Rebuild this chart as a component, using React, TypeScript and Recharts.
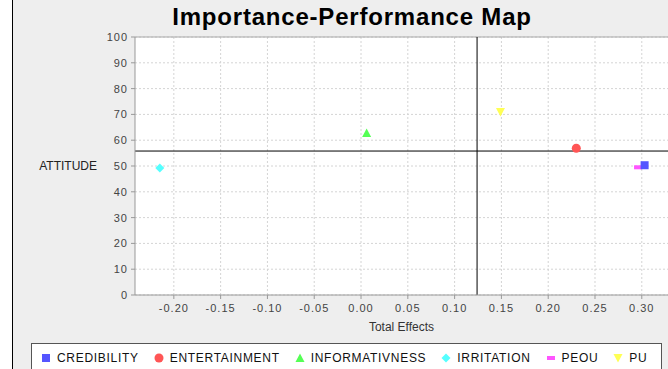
import React from 'react';
import {
  ScatterChart,
  Scatter,
  XAxis,
  YAxis,
  CartesianGrid,
  ReferenceLine,
} from 'recharts';

const categories = ['CREDIBILITY', 'ENTERTAINMENT', 'INFORMATIVNESS', 'IRRITATION', 'PEOU', 'PU'];
const importance = [0.303, 0.230, 0.006, -0.215, 0.296, 0.149];
const performance = [50.3, 56.9, 62.8, 49.2, 49.5, 70.9];
const seriesColors = ['#5555FF', '#FF5555', '#55FF55', '#55FFFF', '#FF55FF', '#FFFF55'];
const seriesShapes = ['square', 'circle', 'triangleUp', 'diamond', 'hrect', 'triangleDown'];
const meanImportance = 0.124;
const meanPerformance = 55.8;
const xTicks = [-0.2, -0.15, -0.1, -0.05, 0, 0.05, 0.1, 0.15, 0.2, 0.25, 0.3];
const yTicks = [0, 10, 20, 30, 40, 50, 60, 70, 80, 90, 100];
const xDomain = [-0.2415, 0.328];
const yDomain = [0, 100];
// draw order so the blue square sits on top of the magenta rectangle
const drawOrder = [4, 1, 2, 3, 5, 0];

const FONT = '"Liberation Sans", Arial, Helvetica, sans-serif';

function Glyph({ kind, cx, cy, color }: { kind: string; cx: number; cy: number; color: string }) {
  switch (kind) {
    case 'square':
      return <rect x={cx - 4} y={cy - 4} width={8} height={8} fill={color} />;
    case 'circle':
      return <circle cx={cx} cy={cy} r={4.5} fill={color} />;
    case 'triangleUp':
      return <polygon points={`${cx},${cy - 4.5} ${cx + 4.5},${cy + 4} ${cx - 4.5},${cy + 4}`} fill={color} />;
    case 'diamond':
      return <polygon points={`${cx},${cy - 4.5} ${cx + 4.5},${cy} ${cx},${cy + 4.5} ${cx - 4.5},${cy}`} fill={color} />;
    case 'hrect':
      return <rect x={cx - 4} y={cy - 2} width={8} height={4} fill={color} />;
    case 'triangleDown':
      return <polygon points={`${cx - 4.5},${cy - 4} ${cx + 4.5},${cy - 4} ${cx},${cy + 4.5}`} fill={color} />;
    default:
      return null;
  }
}

const makeShape = (kind: string, color: string) => (props: any) => {
  const { cx, cy } = props;
  if (cx == null || cy == null) return <g />;
  return <Glyph kind={kind} cx={cx} cy={cy} color={color} />;
};

export default function App() {
  return (
    <div
      style={{
        position: 'absolute',
        left: 0,
        top: 0,
        width: 668,
        height: 369,
        overflow: 'hidden',
        background: '#eeeeee',
        fontFamily: FONT,
      }}
    >
      <div style={{ position: 'absolute', left: 0, top: 0, width: 12, height: 369, background: '#ffffff' }} />
      <div style={{ position: 'absolute', left: 12, top: 0, width: 1, height: 369, background: '#000000' }} />
      <div
        style={{
          position: 'absolute',
          left: 0,
          top: 3,
          width: 704,
          textAlign: 'center',
          fontSize: 24,
          letterSpacing: 0.8,
          fontWeight: 'bold',
          color: '#000',
          fontFamily: FONT,
        }}
      >
        Importance-Performance Map
      </div>
      <div style={{ position: 'absolute', left: 0, top: 0 }}>
        <ScatterChart width={668} height={369} margin={{ top: 37, right: 0, bottom: 34, left: 95 }}>
          <CartesianGrid stroke="#d4d4d4" strokeDasharray="2 2" fill="#ffffff" verticalValues={xTicks} horizontalValues={yTicks} />
          <XAxis
            type="number"
            dataKey="x"
            domain={xDomain}
            ticks={xTicks}
            allowDataOverflow
            height={40}
            tickSize={4}
            tickMargin={5}
            stroke="#999999"
            tick={{ fill: '#444444', fontSize: 11, fontFamily: FONT, letterSpacing: 1 }}
            tickFormatter={(v: number) => v.toFixed(2)}
            label={{ value: 'Total Effects', position: 'insideBottom', offset: 4, fill: '#333333', fontSize: 12, fontFamily: FONT }}
          />
          <YAxis
            type="number"
            dataKey="y"
            domain={yDomain}
            ticks={yTicks}
            allowDataOverflow
            width={40}
            tickSize={4}
            tickMargin={3}
            stroke="#999999"
            tick={{ fill: '#444444', fontSize: 11, fontFamily: FONT, letterSpacing: 1 }}
            label={{ value: 'ATTITUDE', position: 'left', offset: -2, fill: '#222222', fontSize: 12, fontFamily: FONT }}
          />
          <ReferenceLine y={100} stroke="#a8a8a8" />
          <ReferenceLine x={meanImportance} stroke="#000000" />
          <ReferenceLine y={meanPerformance} stroke="#000000" />
          {drawOrder.map((i) => (
            <Scatter
              key={categories[i]}
              name={categories[i]}
              data={[{ x: importance[i], y: performance[i] }]}
              fill={seriesColors[i]}
              shape={makeShape(seriesShapes[i], seriesColors[i])}
              isAnimationActive={false}
            />
          ))}
        </ScatterChart>
      </div>
      <div
        style={{
          position: 'absolute',
          left: 31,
          top: 343,
          width: 631,
          height: 40,
          background: '#ffffff',
          border: '1px solid #555555',
          boxSizing: 'border-box',
        }}
      >
        <div style={{ display: 'flex', alignItems: 'center', height: 27, paddingLeft: 9, fontSize: 12, letterSpacing: 0.7, color: '#111' }}>
          {categories.map((c, i) => (
            <div key={c} style={{ display: 'flex', alignItems: 'center', marginRight: 15 }}>
              <svg width={10} height={10} style={{ marginRight: 6 }}>
                <Glyph kind={seriesShapes[i]} cx={5} cy={5} color={seriesColors[i]} />
              </svg>
              <span>{c}</span>
            </div>
          ))}
        </div>
      </div>
    </div>
  );
}
